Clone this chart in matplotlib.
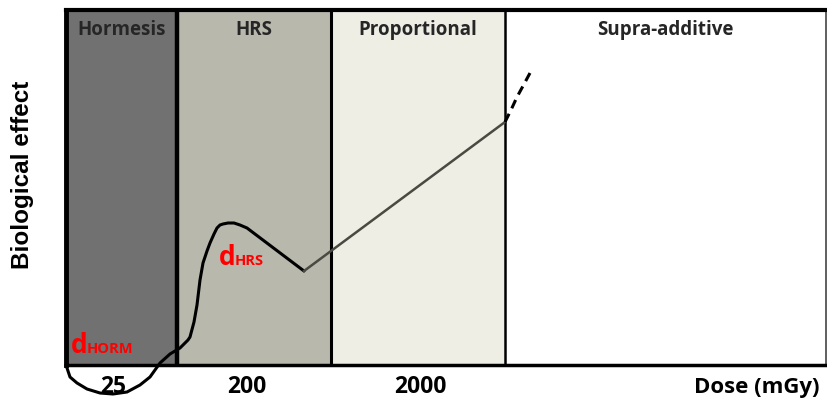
import matplotlib
matplotlib.use("Agg")
import matplotlib.pyplot as plt
import numpy as np

plt.rcParams['font.family'] = ['Open Sans', 'DejaVu Sans']

# dose regions (schematic units along the dose axis)
region_names = ["Hormesis", "HRS", "Proportional", "Supra-additive"]
region_edges = [0, 111, 265, 439, 760]
region_colors = ["#717171", "#b9b8ad", "#efeee5", "#ffffff"]

# dose tick labels and where they sit
dose_ticks = [47, 181, 354]
dose_labels = ["25", "200", "2000"]

# response curve
curve_x = [0, 4, 11, 21, 34, 47, 61, 74, 84, 94, 104, 114, 122, 124, 128,
           131, 134, 137, 141, 144, 148, 151, 154, 157, 162, 168, 174, 181,
           238]
curve_y = [0, -12, -18, -24, -28, -29, -27, -20, -12, 2, 11, 17, 25, 28, 43,
           60, 85, 102, 114, 122, 131, 137, 140, 141, 142, 142, 140, 137,
           94]
linear_x = [238, 439]
linear_y = [94, 243]
supra_x = [439, 445, 451, 457, 464]
supra_y = [243, 255, 268, 279, 292]

fig = plt.figure(figsize=(8.27, 4.08), dpi=100)
ax = fig.add_axes([66 / 827, 1 - 365 / 408, 760 / 827, 355 / 408])
ax.set_xlim(region_edges[0], region_edges[-1])
ax.set_ylim(0, 355)

for i in range(len(region_names)):
    ax.axvspan(region_edges[i], region_edges[i + 1], color=region_colors[i], zorder=0)
    ax.text((region_edges[i] + region_edges[i + 1]) / 2, 335, region_names[i],
            ha="center", va="center", fontsize=13.5, fontweight="bold", color="#262626")

ax.axvline(region_edges[1], color="black", lw=3.2, zorder=2)
ax.axvline(region_edges[2], color="black", lw=2.2, zorder=2)
ax.axvline(region_edges[3], color="black", lw=1.8, zorder=2)

for side, w in [("left", 3.5), ("top", 3.0), ("bottom", 2.5), ("right", 1.2)]:
    ax.spines[side].set_linewidth(w)
    ax.spines[side].set_color("black")
ax.spines["right"].set_color("#444444")

ax.plot(curve_x, curve_y, color="black", lw=2.2, clip_on=False, zorder=3,
        solid_capstyle="round", solid_joinstyle="round")
ax.plot(linear_x, linear_y, color="#4a4a42", lw=1.8, zorder=3)
ax.plot(supra_x, supra_y, color="black", lw=2.2, ls=(0, (3, 2)), zorder=3)

ax.text(5, 12, "d", color="red", fontsize=19, fontweight="bold", ha="left", va="baseline")
ax.text(21, 12, "HORM", color="red", fontsize=10.5, fontweight="bold", ha="left", va="baseline")
ax.text(153, 100, "d", color="red", fontsize=19, fontweight="bold", ha="left", va="baseline")
ax.text(169, 100, "HRS", color="red", fontsize=10.5, fontweight="bold", ha="left", va="baseline")

ax.set_xticks(dose_ticks)
ax.set_xticklabels(dose_labels, fontsize=16.5, fontweight="bold")
ax.tick_params(axis="x", length=0, pad=7)
ax.set_yticks([])

fig.text(819 / 827, 1 - 388 / 408, "Dose (mGy)", ha="right", va="center",
         fontsize=16, fontweight="bold")
fig.text(23 / 827, 1 - 175 / 408, "Biological effect", ha="center", va="center",
         rotation=90, fontsize=17.5, fontweight="bold", family="Liberation Sans")

fig.savefig("out.png", dpi=100)
